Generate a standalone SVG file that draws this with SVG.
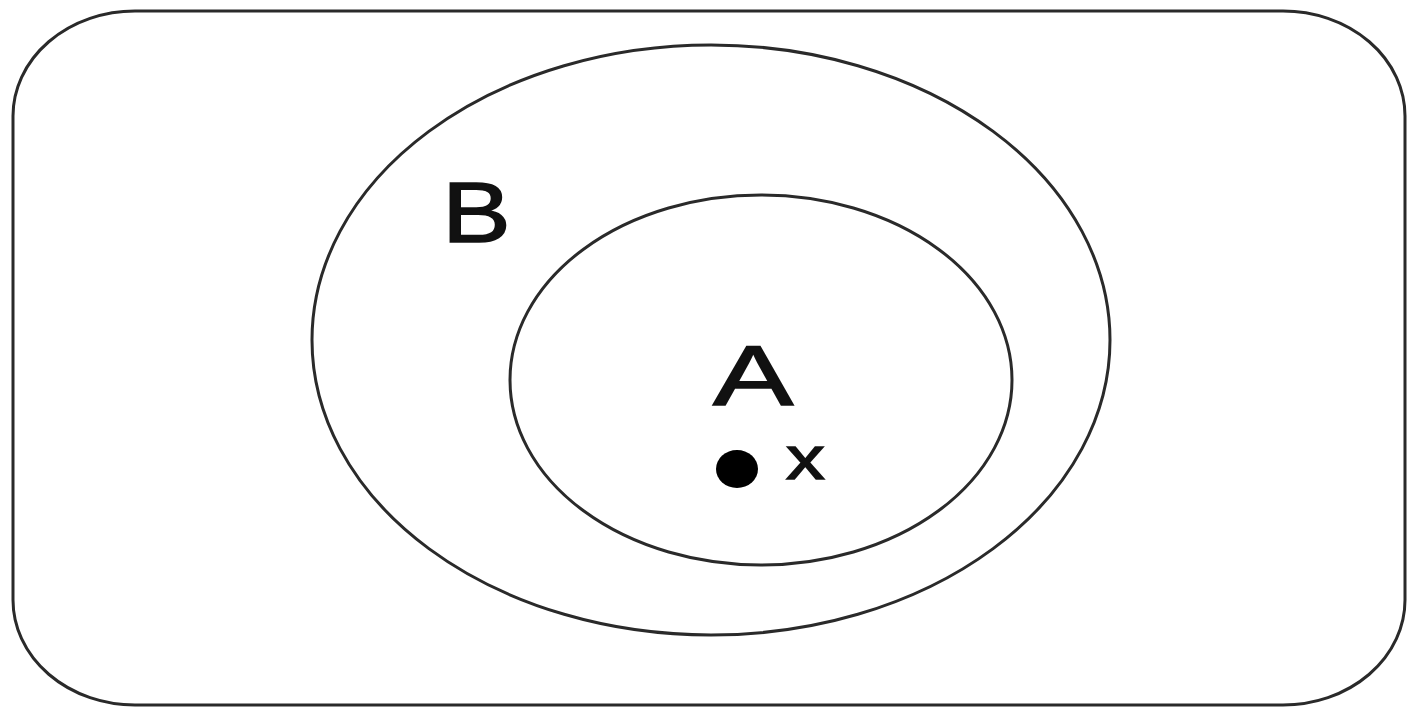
<svg xmlns="http://www.w3.org/2000/svg" width="1409" height="710" viewBox="0 0 1409 710">
<style>
.ln{fill:none;stroke:#2a2a2a;stroke-width:3}
.lbl{font-family:"Liberation Sans",Arial,sans-serif;fill:#111;stroke:#111;stroke-width:1.5}
</style>
<rect width="1409" height="710" fill="#fff"/>
<g id="universe"><rect class="ln" x="13" y="11" width="1392" height="694" rx="122" ry="105"/></g>
<g id="B"><ellipse class="ln" cx="711" cy="340" rx="399" ry="295"/>
<text class="lbl" x="0" y="0" font-size="86" transform="translate(442,242) scale(1.2,1)">B</text></g>
<g id="A"><ellipse class="ln" cx="761" cy="380" rx="251" ry="185"/>
<text class="lbl" x="0" y="0" font-size="86" transform="translate(713,405) scale(1.4,1)">A</text></g>
<g id="x"><ellipse cx="737" cy="469" rx="21" ry="19" fill="#000"/>
<text class="lbl" x="0" y="0" font-size="62" transform="translate(786,479) scale(1.25,1)">x</text></g>
</svg>
